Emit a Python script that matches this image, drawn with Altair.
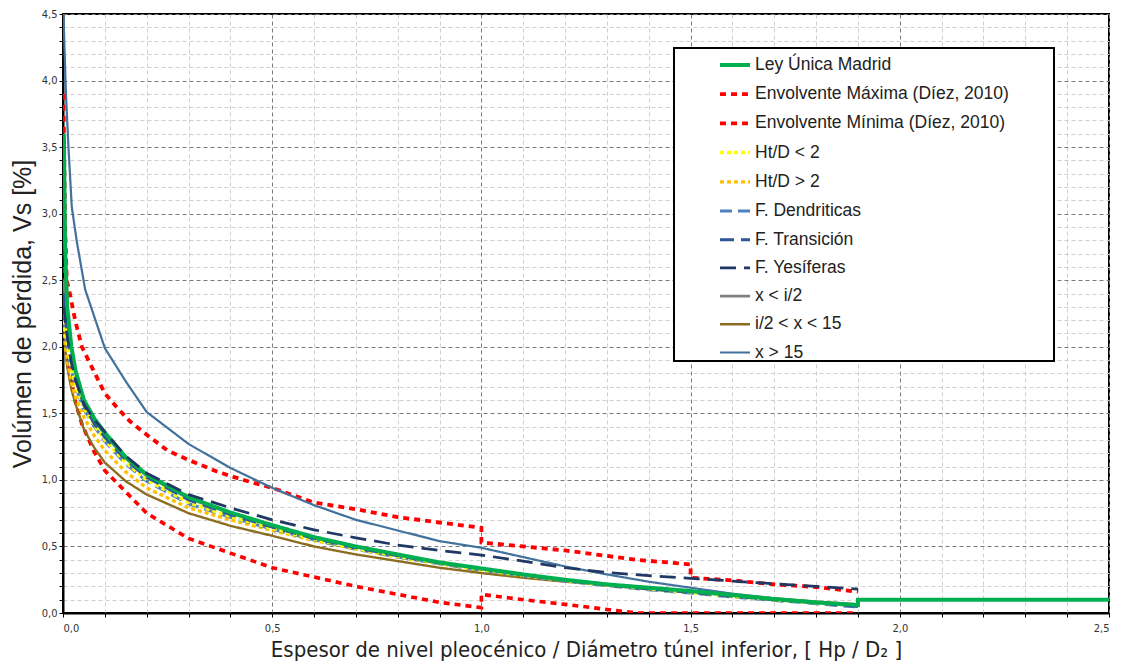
import altair as alt
import pandas as pd

# ---------------- data ----------------
series_names = [
    "Ley Única Madrid",
    "Envolvente Máxima (Díez, 2010)",
    "Envolvente Mínima (Díez, 2010)",
    "Ht/D < 2",
    "Ht/D > 2",
    " F. Dendriticas",
    " F. Transición",
    " F. Yesíferas",
    "x < i/2",
    "i/2 < x < 15",
    "x > 15",
]
series_colors = ["#00B050", "#FF0000", "#FF0000", "#FFFF00", "#FFC000",
                 "#4F81BD", "#2F5597", "#1F3864", "#7F7F7F", "#8C6D1F", "#41719C"]
series_dash = [[1, 0], [6, 5], [6, 5], [4, 3], [4, 3],
               [12, 6], [14, 7], [16, 8], [1, 0], [1, 0], [1, 0]]
series_width = [4.0, 2.2, 2.2, 1.6, 1.6, 3.0, 3.0, 3.5, 1.3, 1.8, 1.8]

x_std = [0.002, 0.005, 0.01, 0.02, 0.03, 0.05, 0.075, 0.1, 0.15, 0.2, 0.3, 0.4, 0.5,
         0.6, 0.7, 0.8, 0.9, 1.0, 1.1, 1.2, 1.3, 1.4, 1.5, 1.6, 1.7, 1.8, 1.9]

ley_x = x_std + [1.9, 2.5]
ley_y = [3.6, 2.75, 2.3, 2.0, 1.82, 1.6, 1.46, 1.355, 1.17, 1.04, 0.87, 0.755, 0.66,
         0.57, 0.5, 0.44, 0.38, 0.335, 0.29, 0.25, 0.215, 0.19, 0.165, 0.135, 0.105, 0.08, 0.06,
         0.1, 0.1]

env_max_x = [0.001, 0.005, 0.009, 0.017, 0.029, 0.045, 0.07, 0.1, 0.13, 0.16, 0.2, 0.25, 0.3,
             0.37, 0.43, 0.5, 0.6, 0.7, 0.8, 0.9, 1.0, 1.0, 1.1, 1.2, 1.37, 1.5, 1.5, 1.6,
             1.7, 1.8, 1.9]
env_max_y = [3.9, 2.9, 2.5, 2.39, 2.2, 2.0, 1.84, 1.65, 1.54, 1.44, 1.34, 1.22, 1.15,
             1.06, 1.0, 0.94, 0.83, 0.78, 0.72, 0.68, 0.64, 0.53, 0.5, 0.47, 0.40, 0.365, 0.265,
             0.245, 0.215, 0.195, 0.16]

env_min_x = [0.002, 0.01, 0.02, 0.03, 0.045, 0.073, 0.1, 0.15, 0.2, 0.3, 0.4, 0.5, 0.6,
             0.7, 0.8, 0.9, 1.0, 1.0, 1.1, 1.2, 1.37, 1.9]
env_min_y = [2.6, 2.0, 1.75, 1.58, 1.42, 1.22, 1.07, 0.91, 0.75, 0.56, 0.45, 0.34, 0.27,
             0.2, 0.14, 0.08, 0.04, 0.14, 0.1, 0.065, 0.0, 0.0]

htd_lt2_y = [2.25, 2.12, 2.02, 1.84, 1.71, 1.54, 1.41, 1.3, 1.13, 1.0, 0.83, 0.725, 0.635,
             0.555, 0.485, 0.425, 0.375, 0.325, 0.285, 0.245, 0.21, 0.18, 0.155, 0.125, 0.1, 0.075, 0.055]
htd_gt2_y = [2.15, 2.02, 1.9, 1.73, 1.62, 1.47, 1.33, 1.22, 1.06, 0.94, 0.79, 0.7, 0.62,
             0.545, 0.48, 0.42, 0.37, 0.32, 0.28, 0.245, 0.21, 0.185, 0.16, 0.13, 0.105, 0.08, 0.06]
dendr_y = [2.2, 2.1, 2.0, 1.82, 1.7, 1.53, 1.4, 1.29, 1.12, 0.99, 0.82, 0.72, 0.63,
           0.55, 0.48, 0.42, 0.37, 0.32, 0.28, 0.24, 0.205, 0.175, 0.15, 0.12, 0.095, 0.07, 0.045]
trans_y = [2.4, 2.25, 2.1, 1.9, 1.76, 1.56, 1.42, 1.32, 1.15, 1.02, 0.85, 0.74, 0.645,
           0.56, 0.49, 0.43, 0.375, 0.33, 0.285, 0.245, 0.21, 0.18, 0.155, 0.125, 0.1, 0.075, 0.05]
yes_y = [2.3, 2.2, 2.08, 1.88, 1.75, 1.57, 1.45, 1.36, 1.18, 1.05, 0.89, 0.79, 0.7,
         0.625, 0.565, 0.51, 0.47, 0.435, 0.39, 0.34, 0.305, 0.28, 0.26, 0.24, 0.22, 0.2, 0.18]
gray_y = [2.5, 2.35, 2.2, 1.97, 1.8, 1.58, 1.44, 1.34, 1.16, 1.03, 0.86, 0.75, 0.655,
          0.565, 0.495, 0.435, 0.38, 0.33, 0.285, 0.245, 0.21, 0.185, 0.16, 0.13, 0.1, 0.08, 0.06]
brown_y = [2.3, 2.0, 1.85, 1.68, 1.57, 1.38, 1.24, 1.13, 0.99, 0.89, 0.75, 0.655, 0.58,
           0.5, 0.44, 0.39, 0.34, 0.3, 0.265, 0.235, 0.21, 0.185, 0.16, 0.135, 0.11, 0.085, 0.065]

gt15_x = [0.001, 0.007, 0.013, 0.021, 0.033, 0.053, 0.1, 0.15, 0.2, 0.3, 0.4, 0.5, 0.6,
          0.7, 0.8, 0.9, 1.0, 1.1, 1.2, 1.3, 1.4, 1.5, 1.6, 1.7, 1.8, 1.9]
gt15_y = [4.5, 3.9, 3.5, 3.05, 2.79, 2.43, 1.99, 1.74, 1.51, 1.27, 1.09, 0.94, 0.81,
          0.7, 0.62, 0.54, 0.49, 0.42, 0.35, 0.29, 0.235, 0.19, 0.145, 0.11, 0.08, 0.045]

x_ticks = [0.0, 0.1, 0.2, 0.3, 0.4, 0.5, 0.6, 0.7, 0.8, 0.9, 1.0, 1.1, 1.2, 1.3, 1.4,
           1.5, 1.6, 1.7, 1.8, 1.9, 2.0, 2.1, 2.2, 2.3, 2.4, 2.5]
y_ticks = [0.0, 0.1, 0.2, 0.3, 0.4, 0.5, 0.6, 0.7, 0.8, 0.9, 1.0, 1.1, 1.2, 1.3, 1.4,
           1.5, 1.6, 1.7, 1.8, 1.9, 2.0, 2.1, 2.2, 2.3, 2.4, 2.5, 2.6, 2.7, 2.8, 2.9, 3.0,
           3.1, 3.2, 3.3, 3.4, 3.5, 3.6, 3.7, 3.8, 3.9, 4.0, 4.1, 4.2, 4.3, 4.4, 4.5]

# drawing order (first drawn = bottom)
draw = [
    (series_names[1], env_max_x, env_max_y),
    (series_names[2], env_min_x, env_min_y),
    (series_names[10], gt15_x, gt15_y),
    (series_names[9], x_std, brown_y),
    (series_names[8], x_std, gray_y),
    (series_names[4], x_std, htd_gt2_y),
    (series_names[5], x_std, dendr_y),
    (series_names[3], x_std, htd_lt2_y),
    (series_names[6], x_std, trans_y),
    (series_names[0], ley_x, ley_y),
    (series_names[7], x_std, yes_y),
]
rows = []
for name, xs, ys in draw:
    for i, (xv, yv) in enumerate(zip(xs, ys)):
        rows.append({"serie": name, "x": xv, "y": yv, "i": i})
df = pd.DataFrame(rows)

major_test = "abs(datum.value*2 - round(datum.value*2)) < 0.000001"
lab_expr = major_test + " ? replace(format(datum.value, '.1f'), '.', ',') : ''"
grid_col = {"condition": {"test": major_test, "value": "#7a7a7a"}, "value": "#cfcfcf"}

tick_font = "Liberation Sans Narrow, Arial Narrow, DejaVu Sans Condensed, sans-serif"

leg = alt.Legend(title=" ", titleOrient="right", titlePadding=45)

chart = alt.Chart(df).mark_line(clip=True).encode(
    x=alt.X("x:Q", scale=alt.Scale(domain=[0, 2.5], nice=False, zero=False),
            axis=alt.Axis(values=x_ticks, labelExpr=lab_expr, labelPadding=5,
                          title="Espesor de nivel pleocénico / Diámetro túnel inferior, [ Hp / D₂ ]",
                          gridColor=grid_col, titlePadding=6)),
    y=alt.Y("y:Q", scale=alt.Scale(domain=[0, 4.5], nice=False, zero=False),
            axis=alt.Axis(values=y_ticks, labelExpr=lab_expr,
                          title="Volúmen de pérdida, Vs [%]",
                          gridColor=grid_col, titlePadding=6)),
    color=alt.Color("serie:N", scale=alt.Scale(domain=series_names, range=series_colors),
                    legend=leg),
    strokeDash=alt.StrokeDash("serie:N", scale=alt.Scale(domain=series_names, range=series_dash),
                              legend=leg),
    strokeWidth=alt.StrokeWidth("serie:N", scale=alt.Scale(domain=series_names, range=series_width),
                                legend=leg),
    order=alt.Order("i:Q"),
).properties(
    width=1046, height=599, autosize="none",
    padding={"left": 55, "top": 6, "right": 8, "bottom": 60},
).configure_view(
    stroke="black", strokeWidth=2
).configure_axis(
    grid=True, gridDash=[4, 3], gridWidth=1,
    domainColor="black", domainWidth=2,
    tickColor="black", tickSize=4, tickWidth=1,
    labelFont=tick_font, labelFontSize=11, labelColor="#333333",
    titleFont="Liberation Sans Narrow, Arial Narrow, DejaVu Sans Condensed, sans-serif",
    titleFontSize=22, titleFontWeight="normal", titleColor="#222222",
).configure_axisY(
    titleFont="Liberation Sans, Arial, sans-serif", titleFontSize=25,
).configure_legend(
    orient="none", legendX=611, legendY=34,
    fillColor="white", strokeColor="black", strokeWidth=2,
    padding=0, symbolType="stroke", symbolSize=900, symbolOffset=44,
    labelFont="Liberation Sans, Arial, sans-serif", labelFontSize=17.5, labelColor="#222222",
    labelOffset=3, labelLimit=600, rowPadding=3.2, titleFontSize=17.5,
)

chart.save("out.html", embed_options={"renderer": "svg", "actions": False})
